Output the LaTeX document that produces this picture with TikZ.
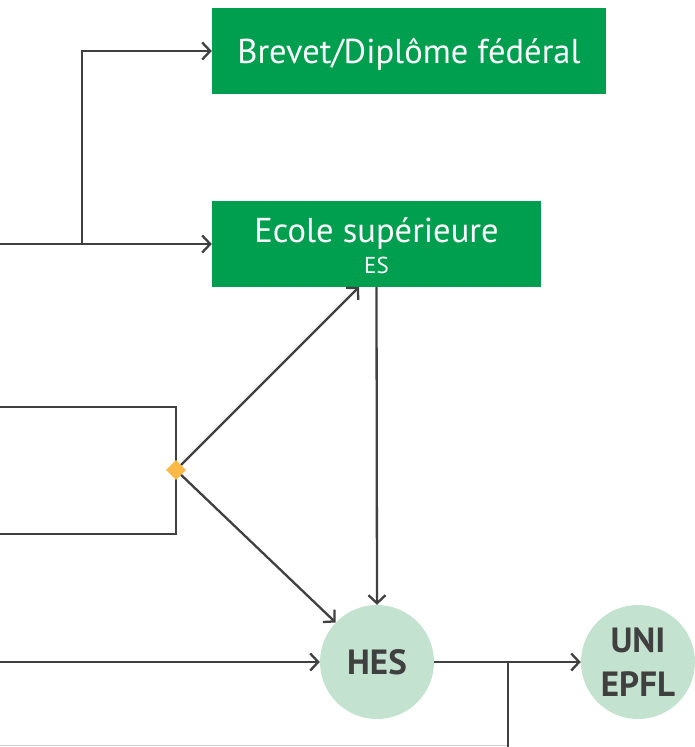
\documentclass[tikz,border=0pt]{standalone}
\usepackage{fontspec}
\setmainfont{PT Sans}
\usetikzlibrary{arrows.meta,shapes.geometric,calc}
\definecolor{dgreen}{RGB}{0,158,79}
\definecolor{lgreen}{RGB}{195,226,207}
\definecolor{lgray}{RGB}{64,64,64}
\definecolor{dorange}{RGB}{251,186,71}
\tikzset{
  conn/.style={draw=lgray,line width=2.3pt},
  arr/.style={conn,-{Straight Barb[length=8pt,width=17pt,line width=2.3pt]}},
  gbox/.style={rectangle,fill=dgreen,text=white,inner sep=0pt,align=center},
  circ/.style={circle,fill=lgreen,text=lgray,minimum size=114pt,inner sep=0pt,align=center,font=\bfseries\fontsize{35}{44}\selectfont},
}
\begin{document}
\begin{tikzpicture}[x=1pt,y=-1pt]
\useasboundingbox (0,0) rectangle (695,747);
\node[gbox,minimum width=394pt,minimum height=86pt,font=\fontsize{34.5}{40}\selectfont] (brevet) at (409,51) {\raisebox{-3pt}[\height][\depth]{Brevet/Diplôme fédéral}};
\node[gbox,minimum width=329pt,minimum height=86pt] (ecole) at (376.5,244) {};
\node[text=white,font=\fontsize{34.5}{40}\selectfont,inner sep=0pt] (ecoletxt) at (376.5,233.5) {Ecole supérieure};
\node[text=white,font=\fontsize{23}{26}\selectfont,inner sep=0pt] (estxt) at (376.5,265) {ES};
\node[circ] (hes) at (377,662) {HES};
\node[circ] (uni) at (638,662) {UNI\\EPFL};
\coordinate (s1) at (0,244);
\coordinate (j1) at (82,244);
\coordinate (r1) at (0,407);
\coordinate (r2) at (176,407);
\coordinate (r3) at (176,534);
\coordinate (r4) at (0,534);
\coordinate (s3) at (0,662);
\coordinate (b1) at (508,662);
\coordinate (b2) at (508,747);
\coordinate (g1) at (0,745.5);
\coordinate (g2) at (507,745.5);
\coordinate (etip) at (359,287);
\draw[draw=black!18,line width=1.2pt] (g1) -- (g2);
\draw[arr] (s1) -- (ecole.west);
\draw[arr] (j1) |- (brevet.west);
\draw[conn] (r1) -- (r2) -- (r3) -- (r4);
\node[diamond,fill=dorange,minimum size=20pt,inner sep=0pt] (dia) at (176,470) {};
\draw[arr] (dia) -- (etip);
\draw[arr] (dia) -- (hes);
\draw[arr] (ecole.south) -- (hes.north);
\draw[arr] (s3) -- (hes.west);
\draw[arr] (hes.east) -- (uni.west);
\draw[conn] (b1) -- (b2);
\end{tikzpicture}
\end{document}
